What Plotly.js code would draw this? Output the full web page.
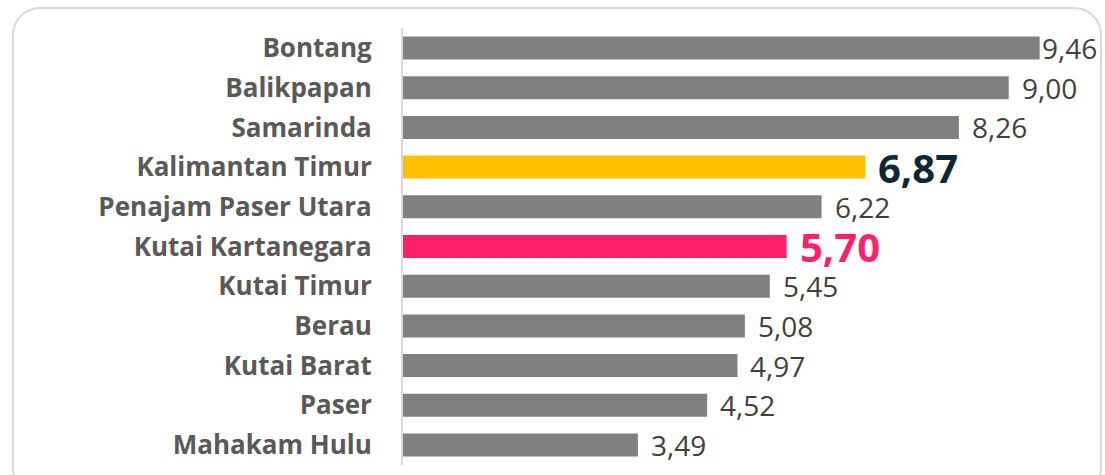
<!DOCTYPE html>
<html>
<head>
<meta charset="utf-8">
<script src="https://cdn.plot.ly/plotly-3.0.1.min.js"></script>
<style>
  html, body { margin: 0; padding: 0; background: #ffffff; overflow: hidden; }
  #wrap { position: relative; width: 1105px; height: 475px; }
  #frame { position: absolute; left: 12px; top: 7px; width: 1090px; height: 490px;
           border: 2px solid #d9d9d9; border-radius: 28px; box-sizing: border-box;
           pointer-events: none; z-index: 5; }
  #chart { position: absolute; left: 0; top: 0; width: 1105px; height: 475px; }
</style>
</head>
<body>
<div id="wrap">
  <div id="chart"></div>
  <div id="frame"></div>
</div>
<script>
const categories = ["Bontang", "Balikpapan", "Samarinda", "Kalimantan Timur", "Penajam Paser Utara",
  "Kutai Kartanegara", "Kutai Timur", "Berau", "Kutai Barat", "Paser", "Mahakam Hulu"];
const values = [9.46, 9.00, 8.26, 6.87, 6.22, 5.70, 5.45, 5.08, 4.97, 4.52, 3.49];
const valueLabels = ["9,46", "9,00", "8,26", "6,87", "6,22", "5,70", "5,45", "5,08", "4,97", "4,52", "3,49"];
const provinceName = "Kalimantan Timur";
const focusName = "Kutai Kartanegara";

const GRAY = "#808080", YELLOW = "#ffc000", PINK = "#ff1f6b";
const colors = categories.map(c => c === provinceName ? YELLOW : (c === focusName ? PINK : GRAY));

const CAT_FONT = "'Open Sans', Lato, sans-serif";
const VAL_FONT = "'Open Sans', Lato, sans-serif";
const maxVal = Math.max(...values);

const annotations = categories.map((c, i) => {
  let font = { family: VAL_FONT, size: 28, color: "#404040" };
  if (c === provinceName) font = { family: VAL_FONT, size: 40, color: "#0f2635", weight: 700 };
  if (c === focusName) font = { family: VAL_FONT, size: 40, color: PINK, weight: 700 };
  const big = (c === provinceName || c === focusName);
  return {
    x: values[i], y: c, xref: "x", yref: "y",
    text: big ? "<b>" + valueLabels[i] + "</b>" : valueLabels[i],
    showarrow: false, xanchor: "left", yanchor: "middle",
    xshift: values[i] === maxVal ? 1 : 12,
    yshift: 0,
    borderpad: 0,
    font: font
  };
});

const trace = {
  type: "bar", orientation: "h",
  x: values, y: categories,
  marker: { color: colors },
  width: 0.58,
  hoverinfo: "skip"
};

const layout = {
  width: 1105, height: 475,
  margin: { l: 403, r: 29, t: 28, b: 10, pad: 0 },
  paper_bgcolor: "#ffffff", plot_bgcolor: "#ffffff",
  showlegend: false,
  xaxis: { range: [0, 10], visible: false, fixedrange: true },
  yaxis: {
    type: "category", autorange: "reversed",
    showline: true, linecolor: "#d9d9d9", linewidth: 2,
    showgrid: false, zeroline: false, ticks: "",
    ticklabelstandoff: 24,
    tickfont: { family: CAT_FONT, size: 26, color: "#595959", weight: 700 },
    fixedrange: true
  },
  annotations: annotations
};

Plotly.newPlot("chart", [trace], layout, { displayModeBar: false, staticPlot: true });
</script>
</body>
</html>
